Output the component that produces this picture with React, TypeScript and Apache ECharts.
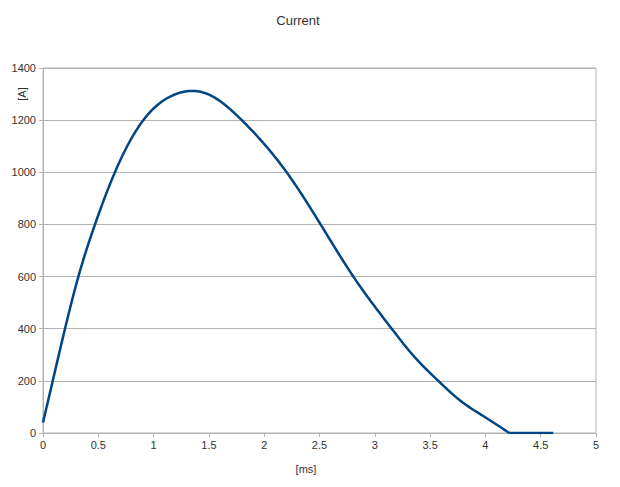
import React, { useEffect, useRef } from "react";
import * as echarts from "echarts";

// Current pulse (time in ms, current in A)
const timeMs = [0, 0.088, 0.199, 0.32, 0.47, 0.65, 0.907, 1.178, 1.33, 1.51, 1.797, 2.203, 2.51, 2.806, 3.153, 3.348, 3.574, 3.77, 4.0, 4.216];
const currentA = [40, 200, 400, 600, 800, 1000, 1200, 1296, 1312, 1296, 1200, 1000, 800, 600, 400, 297, 200, 125, 60, 0];
// Flat tail after the pulse ends
const tailTimeMs = [4.216, 4.614];
const tailCurrentA = [0, 0];

const titleText = "Current";
const xName = "[ms]";
const yName = "[A]";

// Natural cubic spline through the read points, used only to draw a smooth line
function makeSpline(xs: number[], ys: number[]) {
  const n = xs.length;
  const h: number[] = [];
  for (let i = 0; i < n - 1; i++) h.push(xs[i + 1] - xs[i]);
  const a: number[] = new Array(n).fill(0);
  const b: number[] = new Array(n).fill(1);
  const c: number[] = new Array(n).fill(0);
  const d: number[] = new Array(n).fill(0);
  for (let i = 1; i < n - 1; i++) {
    a[i] = h[i - 1];
    b[i] = 2 * (h[i - 1] + h[i]);
    c[i] = h[i];
    d[i] = 6 * ((ys[i + 1] - ys[i]) / h[i] - (ys[i] - ys[i - 1]) / h[i - 1]);
  }
  // Thomas algorithm
  const cp = new Array(n).fill(0);
  const dp = new Array(n).fill(0);
  cp[0] = c[0] / b[0];
  dp[0] = d[0] / b[0];
  for (let i = 1; i < n; i++) {
    const m = b[i] - a[i] * cp[i - 1];
    cp[i] = c[i] / m;
    dp[i] = (d[i] - a[i] * dp[i - 1]) / m;
  }
  const M = new Array(n).fill(0);
  M[n - 1] = dp[n - 1];
  for (let i = n - 2; i >= 0; i--) M[i] = dp[i] - cp[i] * M[i + 1];
  return (x: number) => {
    let i = 0;
    while (i < n - 2 && x > xs[i + 1]) i++;
    const hi = h[i];
    const A = (xs[i + 1] - x) / hi;
    const B = (x - xs[i]) / hi;
    return A * ys[i] + B * ys[i + 1] + ((A * A * A - A) * M[i] + (B * B * B - B) * M[i + 1]) * hi * hi / 6;
  };
}

export default function App() {
  const ref = useRef<HTMLDivElement>(null);
  useEffect(() => {
    if (!ref.current) return;
    const chart = echarts.init(ref.current, undefined, { renderer: "svg" });
    const font = "'Liberation Sans', Arial, sans-serif";
    const lineColor = "#004586";
    const spline = makeSpline(timeMs, currentA);
    chart.setOption({
      animation: false,
      backgroundColor: "#ffffff",
      grid: {
        left: 43,
        right: 24,
        top: 68,
        bottom: 54,
        show: true,
        borderColor: "#b3b3b3",
        borderWidth: 1,
      },
      xAxis: {
        type: "value",
        min: 0,
        max: 5,
        interval: 0.5,
        axisLine: { show: true, lineStyle: { color: "#b3b3b3" } },
        axisTick: { show: true, length: 4, lineStyle: { color: "#b3b3b3" } },
        axisLabel: { color: "#333", fontFamily: font, fontSize: 11, margin: 6, formatter: (v: number) => String(v) },
        splitLine: { show: false },
      },
      yAxis: {
        type: "value",
        min: 0,
        max: 1400,
        interval: 200,
        axisLine: { show: true, lineStyle: { color: "#b3b3b3" } },
        axisTick: { show: true, length: 4, lineStyle: { color: "#b3b3b3" } },
        axisLabel: { color: "#333", fontFamily: font, fontSize: 11, margin: 7, formatter: (v: number) => String(v) },
        splitLine: { show: true, lineStyle: { color: "#b3b3b3" } },
      },
      graphic: [
        {
          type: "text",
          x: 298,
          y: 20,
          style: {
            text: titleText,
            fill: "#333",
            font: `13px ${font}`,
            textAlign: "center",
            textVerticalAlign: "middle",
          },
        },
        {
          type: "text",
          x: 306,
          y: 469,
          style: {
            text: xName,
            fill: "#333",
            font: `11px ${font}`,
            textAlign: "center",
            textVerticalAlign: "middle",
          },
        },
        {
          type: "text",
          x: 22,
          y: 94,
          rotation: Math.PI / 2,
          style: {
            text: yName,
            fill: "#333",
            font: `11px ${font}`,
            textAlign: "center",
            textVerticalAlign: "middle",
          },
        },
      ],
      series: [
        {
          type: "custom",
          data: timeMs.map((t, i) => [t, currentA[i]]),
          encode: { x: 0, y: 1 },
          renderItem: (params: any, api: any) => {
            if (params.dataIndexInside !== 0) return null;
            const t0 = timeMs[0];
            const t1 = timeMs[timeMs.length - 1];
            const steps = 400;
            const pts: number[][] = [];
            for (let k = 0; k <= steps; k++) {
              const t = t0 + ((t1 - t0) * k) / steps;
              pts.push(api.coord([t, spline(t)]));
            }
            return {
              type: "polyline",
              silent: true,
              shape: { points: pts },
              style: { stroke: lineColor, lineWidth: 2.5, fill: "none", lineJoin: "round" },
            };
          },
        },
        {
          type: "line",
          data: tailTimeMs.map((t, i) => [t, tailCurrentA[i]]),
          showSymbol: false,
          lineStyle: { color: lineColor, width: 2.5 },
        },
      ],
    });
    return () => chart.dispose();
  }, []);
  return <div ref={ref} style={{ position: "absolute", left: 0, top: 0, width: 620, height: 487 }} />;
}
